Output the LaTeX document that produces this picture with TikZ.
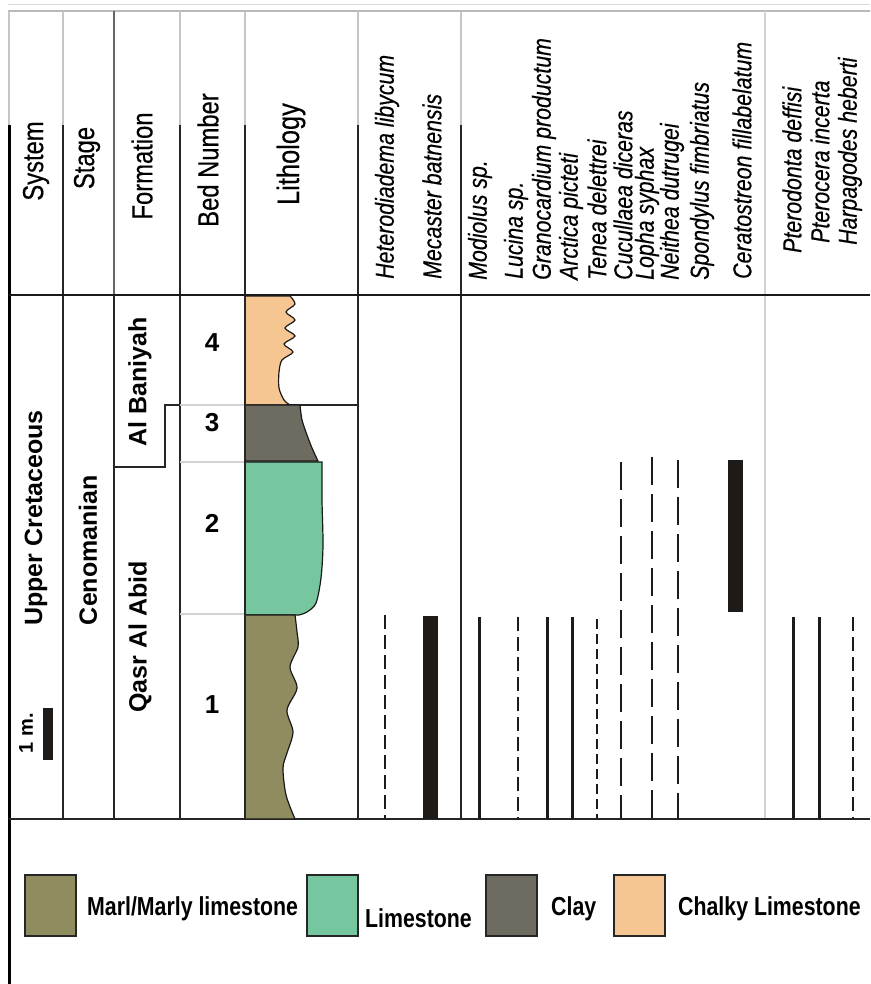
\documentclass[tikz,border=0pt]{standalone}
\usepackage{fontspec}
\setmainfont{Liberation Sans}
\newfontfamily\narrowfont{Liberation Sans}[FakeStretch=0.82]
\newfontfamily\labelfont{Liberation Sans}[FakeStretch=0.82, FakeBold=0.35]
\definecolor{marlolive}{RGB}{143, 140, 96}
\definecolor{limestonegreen}{RGB}{118, 198, 160}
\definecolor{claygray}{RGB}{110, 108, 96}
\definecolor{chalkorange}{RGB}{245, 198, 145}
\definecolor{rangeblack}{RGB}{30, 26, 24}
\usetikzlibrary{calc}

\tikzset{
  hdrlabel/.style={rotate=90, inner sep=0pt, font=\labelfont\fontsize{29}{30}\selectfont},
  foslabel/.style={rotate=90, anchor=west, inner sep=0pt, font=\labelfont\itshape\fontsize{26}{27}\selectfont},
  unitlabel/.style={rotate=90, inner sep=0pt, font=\bfseries\fontsize{25}{26}\selectfont},
  bednum/.style={inner sep=0pt, font=\bfseries\fontsize{26}{27}\selectfont},
  legtext/.style={anchor=base west, inner sep=0pt, font=\narrowfont\bfseries\fontsize{26}{27}\selectfont},
  legbox/.style={draw=black!85, line width=1.3pt, minimum width=51pt, minimum height=61pt, inner sep=0pt},
  faintline/.style={gray!45, line width=1.2pt},
  colline/.style={black!85, line width=1.3pt},
  bedline/.style={gray!35, line width=1.5pt},
  litho/.style={draw=black!90, line width=1.2pt},
  rangesolid/.style={rangeblack, line width=3pt},
  rangedash/.style={rangeblack, line width=2.6pt, dash pattern=on 14pt off 6pt},
  rangeshort/.style={rangeblack, line width=2.6pt, dash pattern=on 10pt off 5pt},
  rangelong/.style={rangeblack, line width=2.6pt, dash pattern=on 28pt off 9pt},
}

\begin{document}
\begin{tikzpicture}[x=1pt, y=-1pt]
  \useasboundingbox (0,0) rectangle (870,984);

  % Frame and columns
  \draw[gray!30, line width=1pt] (8,5) -- (870,5);
  \draw[gray!55, line width=1.5pt] (8,11) -- (870,11);
  \foreach \x in {9,63,180,245,358,461}
    \draw[faintline] (\x,11) -- (\x,125);
  \draw[black, line width=3pt] (9,125) -- (9,984);
  \foreach \x in {63,180,245}
    \draw[colline] (\x,125) -- (\x,819);
  \draw[colline, black!60] (114,11) -- (114,295);
  \draw[colline] (114,295) -- (114,819);
  \draw[colline] (358,125) -- (358,819);
  \draw[colline] (461,125) -- (461,819);
  \draw[gray!35, line width=1.5pt] (765,11) -- (765,819);
  \draw[black!90, line width=2.5pt] (9,295) -- (870,295);
  \draw[black!85, line width=1.6pt] (9,819) -- (870,819);

  % Header
  \node[hdrlabel] (system) at (36,161) {System};
  \node[hdrlabel] (stage) at (87,158) {Stage};
  \node[hdrlabel] (formation) at (142,166) {Formation};
  \node[hdrlabel] (bednumber) at (208,160) {Bed Number};
  \node[hdrlabel, font=\labelfont\fontsize{31}{32}\selectfont] (lithology) at (291,154) {Lithology};

  % Fossils
  \node[foslabel] (hetero) at (387,279) {Heterodiadema libycum};
  \node[foslabel] (mecaster) at (432,279) {Mecaster batnensis};
  \node[foslabel] (modiolus) at (480,280) {Modiolus sp.};
  \node[foslabel] (lucina) at (516,279) {Lucina sp.};
  \node[foslabel] (granocard) at (544,280) {Granocardium productum};
  \node[foslabel] (arctica) at (571,280) {Arctica picteti};
  \node[foslabel] (tenea) at (597,280) {Tenea delettrei};
  \node[foslabel] (cucullaea) at (623,280) {Cucullaea diceras};
  \node[foslabel] (lopha) at (647,280) {Lopha syphax};
  \node[foslabel] (neithea) at (672,280) {Neithea dutrugei};
  \node[foslabel] (spondylus) at (702,280) {Spondylus fimbriatus};
  \node[foslabel] (ceratostreon) at (742,279) {Ceratostreon fillabelatum};
  \node[foslabel] (pterodonta) at (792,253) {Pterodonta deffisi};
  \node[foslabel] (pterocera) at (820,243) {Pterocera incerta};
  \node[foslabel] (harpagodes) at (850,245) {Harpagodes heberti};

  % Units
  \node[unitlabel] (uppercret) at (36,518) {Upper Cretaceous};
  \node[unitlabel] (cenomanian) at (88,550) {Cenomanian};
  \node[unitlabel] (albaniyah) at (140,382) {Al Baniyah};
  \node[unitlabel] (qasr) at (140,637) {Qasr Al Abid};
  \node[unitlabel, font=\bfseries\fontsize{20}{21}\selectfont] (onem) at (26,733) {1 m.};
  \fill[rangeblack] (43,708) rectangle (53,760);

  % Beds
  \foreach \y in {405,462,614}
    \draw[bedline] (180,\y) -- (245,\y);
  \draw[colline] (114,467) -- (165,467) -- (165,405) -- (180,405);
  \draw[colline] (245,405) -- (358,405);
  \node[bednum] (bed4) at (212,343) {4};
  \node[bednum] (bed3) at (212,423) {3};
  \node[bednum] (bed2) at (212,523) {2};
  \node[bednum] (bed1) at (212,705) {1};

  % Lithology column
  \filldraw[litho, fill=chalkorange] (245,296) -- (290,296)
    -- plot[smooth] coordinates {(290,296) (295,304) (286,312) (295,320) (285,328) (295,336) (284,344) (293,352) (282,360) (279,372) (279,388) (284,400) (290,405)}
    -- (245,405) -- cycle;
  \filldraw[litho, fill=claygray] (245,405) -- (300,405)
    -- plot[smooth] coordinates {(300,405) (302,420) (307,435) (312,448) (318,461)}
    -- (245,461) -- cycle;
  \filldraw[litho, fill=limestonegreen] (245,462) -- (322,462)
    -- plot[smooth] coordinates {(322,462) (322,500) (323,545) (321,578) (316,603) (307,612) (299,615)}
    -- (245,615) -- cycle;
  \filldraw[litho, fill=marlolive] (245,615) -- (295,615)
    -- plot[smooth] coordinates {(295,615) (297,632) (298,647) (290,667) (297,688) (287,710) (293,732) (287,753) (283,768) (286,795) (295,819)}
    -- (245,819) -- cycle;
  \draw[colline] (245,295) -- (245,819);

  % Ranges
  \foreach \x in {479,547,572,793,819}
    \draw[rangesolid] (\x,617) -- (\x,819);
  \foreach \x/\ytop in {385/615,518/617,853/617}
    \draw[rangedash] (\x,\ytop) -- (\x,819);
  \draw[rangeshort] (597,619) -- (597,819);
  \foreach \x/\ytop in {621/462,652/457,678/460}
    \draw[rangelong] (\x,\ytop) -- (\x,819);
  \fill[rangeblack] (423,616) rectangle (438,819);
  \fill[rangeblack] (728,460) rectangle (743,612);

  % Legend
  \node[legbox, fill=marlolive] (legmarl) at (50.5,905.5) {};
  \node[legtext] (legmarltext) at (87,915) {Marl/Marly limestone};
  \node[legbox, fill=limestonegreen] (leglime) at (332.5,905.5) {};
  \node[legtext] (leglimetext) at (365,927) {Limestone};
  \node[legbox, fill=claygray] (legclay) at (511.5,905.5) {};
  \node[legtext] (legclaytext) at (551,915) {Clay};
  \node[legbox, fill=chalkorange] (legchalk) at (639.5,905.5) {};
  \node[legtext] (legchalktext) at (678,915) {Chalky Limestone};
\end{tikzpicture}
\end{document}
